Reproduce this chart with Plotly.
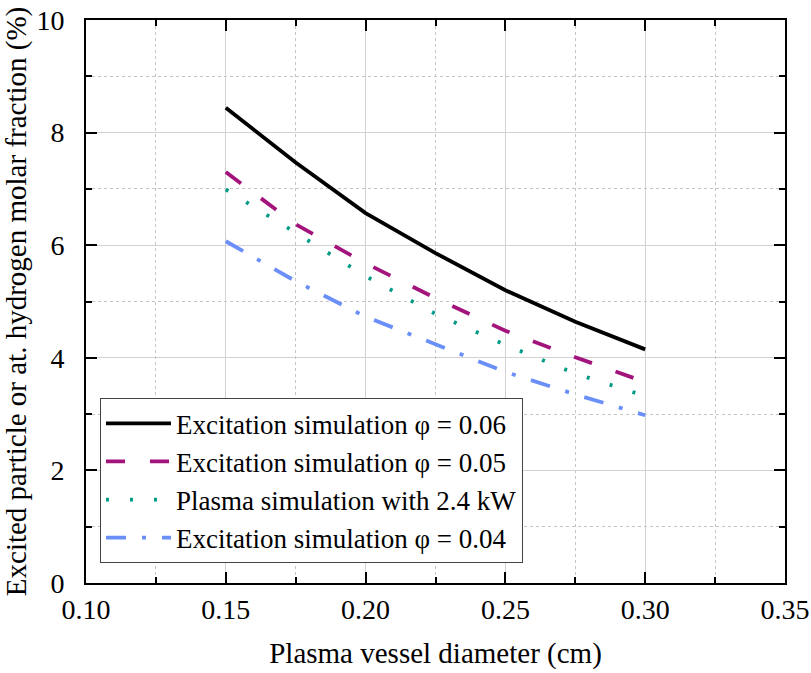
import plotly.graph_objects as go

diameter = [0.15, 0.175, 0.20, 0.225, 0.25, 0.275, 0.30]
exc_006 = [8.44, 7.47, 6.57, 5.86, 5.20, 4.64, 4.15]
exc_005 = [7.30, 6.37, 5.68, 5.06, 4.48, 4.01, 3.57]
plasma_24kw = [6.99, 6.22, 5.45, 4.78, 4.23, 3.72, 3.32]
exc_004 = [6.07, 5.36, 4.73, 4.24, 3.75, 3.35, 2.98]

names = [
    "Excitation simulation φ = 0.06",
    "Excitation simulation φ = 0.05",
    "Plasma simulation with 2.4 kW",
    "Excitation simulation φ = 0.04",
]
x_ticks = [0.10, 0.15, 0.20, 0.25, 0.30, 0.35]
y_ticks = [0, 2, 4, 6, 8, 10]

FONT = "Liberation Serif"

fig = go.Figure()
series = [exc_006, exc_005, plasma_24kw, exc_004]
colors = ["#000000", "#A2137C", "#009A85", "#6A8FF8"]
dashes = ["solid", "19px,25px", "3px,21px", "20px,16px,4px,16px"]
for ys, nm, c, d in zip(series, names, colors, dashes):
    fig.add_trace(go.Scatter(
        x=diameter, y=ys, name=nm, mode="lines",
        line=dict(color=c, width=3.8, dash=d),
    ))

grid_major = "#d2d2d2"
grid_minor = "#c4c4c4"

fig.update_layout(
    width=811, height=673,
    margin=dict(l=86, r=26, t=20, b=90),
    paper_bgcolor="white", plot_bgcolor="white",
    font=dict(family=FONT, size=28, color="black"),
    showlegend=True,
    legend=dict(
        x=0.02, y=0.035, xanchor="left", yanchor="bottom",
        bgcolor="white", bordercolor="#444444", borderwidth=1,
        font=dict(family=FONT, size=27, color="black"),
        itemwidth=65, tracegroupgap=0,
    ),
)

fig.update_xaxes(
    range=[0.10, 0.35],
    tickvals=x_ticks, ticktext=[f"{v:.2f}" for v in x_ticks],
    ticks="inside", ticklen=11, tickwidth=2, tickcolor="black",
    showline=True, linecolor="black", linewidth=2, mirror="allticks",
    showgrid=True, gridcolor=grid_major, gridwidth=1.3,
    zeroline=False,
    minor=dict(dtick=0.025, tick0=0.10, ticks="inside", ticklen=6, tickwidth=2,
               tickcolor="black", showgrid=True, gridcolor=grid_minor,
               griddash="dot", gridwidth=1),
    title=dict(text="Plasma vessel diameter (cm)", standoff=19,
               font=dict(family=FONT, size=29)),
    tickfont=dict(family=FONT, size=28),
    ticklabeloverflow="allow",
    automargin=False,
)
fig.update_yaxes(
    range=[0, 10],
    tickvals=y_ticks, ticktext=[str(v) for v in y_ticks],
    ticks="inside", ticklen=11, tickwidth=2, tickcolor="black",
    showline=True, linecolor="black", linewidth=2, mirror="allticks",
    showgrid=True, gridcolor=grid_major, gridwidth=1.3,
    zeroline=False,
    minor=dict(dtick=1, tick0=0, ticks="inside", ticklen=6, tickwidth=2,
               tickcolor="black", showgrid=True, gridcolor=grid_minor,
               griddash="dot", gridwidth=1),
    title=dict(text="Excited particle or at. hydrogen molar fraction (%)", standoff=5,
               font=dict(family=FONT, size=29)),
    tickfont=dict(family=FONT, size=28),
    ticklabelstandoff=14,
    ticklabeloverflow="allow",
    automargin=False,
)

fig.write_html("out.html", config={"displayModeBar": False},
               post_script="document.body.style.margin='0';")
